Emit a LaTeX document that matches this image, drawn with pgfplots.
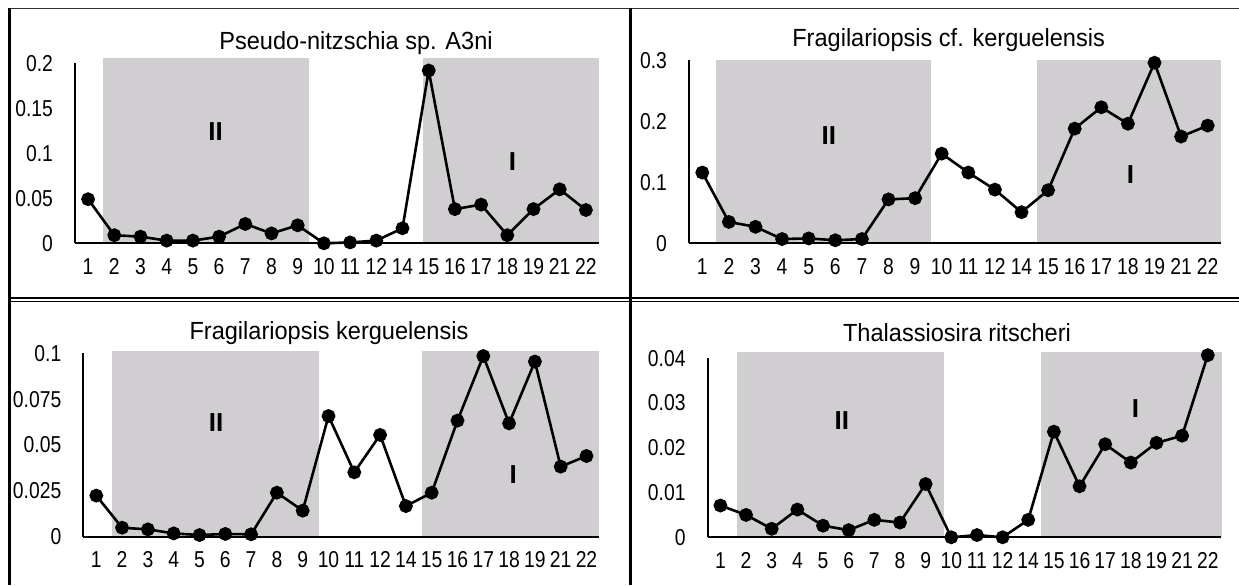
\documentclass[border=0pt]{standalone}
\usepackage{fontspec}
\setmainfont{Liberation Sans}
\newfontfamily\narrowfont[FakeStretch=0.84]{Liberation Sans}
\newfontfamily\titlefont[FakeStretch=0.95]{Liberation Sans}
\usepackage{pgfplots}
\pgfplotsset{compat=1.18}
\definecolor{shade}{RGB}{208,206,208}

\pgfplotsset{
  panel/.style={
    scale only axis, anchor=south west,
    xmin=-0.5, xmax=19.5, ymin=0,
    axis x line=bottom, axis y line=left,
    axis line style={-, line width=1pt, black},
    major tick length=0pt,
    xtick={0,...,19},
    xticklabels={1,2,3,4,5,6,7,8,9,10,11,12,14,15,16,17,18,19,21,22},
    ticklabel style={font=\narrowfont\fontsize{11.5}{13}\selectfont},
    /pgf/number format/assume math mode=true,
    /pgf/number format/fixed, /pgf/number format/precision=3,
    scaled y ticks=false,
    xticklabel style={yshift=-4pt},
    yticklabel style={xshift=-7.5pt},
    clip=false, axis on top,
  },
  series/.style={black, line width=1.3pt, mark=*, mark size=2.8pt, mark options={fill=black}},
  zone/.style={fill=shade, draw=none, forget plot},
}
\newcommand{\zonelabel}{\bfseries\fontsize{13}{15}\selectfont}
\newcommand{\titlesize}{\titlefont\fontsize{12.4}{14}\selectfont}

\begin{document}
\begin{tikzpicture}
\path[use as bounding box] (0,0) rectangle (619.5pt,-292.5pt);

% frames
\draw[gray!40!black, line width=0.7pt] (4pt,-4.15pt) -- (619.5pt,-4.15pt);
\draw[black, line width=1.5pt] (4.5pt,-4pt) -- (4.5pt,-292.5pt);
\draw[black, line width=1.5pt] (315pt,-4pt) -- (315pt,-292.5pt);
\draw[black, line width=0.65pt] (4.5pt,-149pt) -- (619.5pt,-149pt);
\draw[black, line width=0.65pt] (4.5pt,-150.75pt) -- (619.5pt,-150.75pt);

% top left
\begin{axis}[panel, at={(37.5pt,-121.65pt)}, width=262pt, height=90pt,
  ymax=0.2, ytick={0,0.05,0.1,0.15,0.2}]
\addplot[zone] coordinates {(0.57,0.206) (8.42,0.206)} \closedcycle;
\addplot[zone] coordinates {(12.79,0.206) (19.5,0.206)} \closedcycle;
\addplot[series] coordinates {
(0,0.049) (1,0.009) (2,0.0074) (3,0.003) (4,0.003) (5,0.0074) (6,0.0215)
(7,0.011) (8,0.020) (9,0.0) (10,0.001) (11,0.003) (12,0.0167) (13,0.192)
(14,0.038) (15,0.043) (16,0.009) (17,0.038) (18,0.060) (19,0.037)};
\node[font=\zonelabel] at (axis cs:4.87,0.124) {II};
\node[font=\zonelabel] at (axis cs:16.2,0.091) {I};
\end{axis}
\node[font=\titlesize] at (178pt,-21.5pt) {Pseudo-nitzschia sp. A3ni};

% top right
\begin{axis}[panel, at={(344.5pt,-121.65pt)}, width=266pt, height=91.5pt,
  ymax=0.3, ytick={0,0.1,0.2,0.3}]
\addplot[zone] coordinates {(0.53,0.301) (8.6,0.301)} \closedcycle;
\addplot[zone] coordinates {(12.6,0.301) (19.5,0.301)} \closedcycle;
\addplot[series] coordinates {
(0,0.116) (1,0.035) (2,0.027) (3,0.007) (4,0.008) (5,0.005) (6,0.007)
(7,0.072) (8,0.074) (9,0.147) (10,0.116) (11,0.088) (12,0.051) (13,0.087)
(14,0.188) (15,0.223) (16,0.196) (17,0.296) (18,0.175) (19,0.193)};
\node[font=\zonelabel] at (axis cs:4.76,0.177) {II};
\node[font=\zonelabel] at (axis cs:16.1,0.112) {I};
\end{axis}
\node[font=\titlesize] at (474.3pt,-20pt) {Fragilariopsis cf. kerguelensis};

% bottom left
\begin{axis}[panel, at={(41.7pt,-268.35pt)}, width=258pt, height=91.7pt,
  ymax=0.1, ytick={0,0.025,0.05,0.075,0.1}]
\addplot[zone] coordinates {(0.61,0.101) (8.65,0.101)} \closedcycle;
\addplot[zone] coordinates {(12.63,0.101) (19.5,0.101)} \closedcycle;
\addplot[series] coordinates {
(0,0.0224) (1,0.0049) (2,0.004) (3,0.0018) (4,0.0009) (5,0.0015) (6,0.0013)
(7,0.024) (8,0.0142) (9,0.0658) (10,0.0351) (11,0.0555) (12,0.0167) (13,0.024)
(14,0.0633) (15,0.0985) (16,0.0618) (17,0.0955) (18,0.0382) (19,0.044)};
\node[font=\zonelabel] at (axis cs:4.64,0.062) {II};
\node[font=\zonelabel] at (axis cs:16.16,0.034) {I};
\end{axis}
\node[font=\titlesize] at (164.5pt,-166.5pt) {Fragilariopsis kerguelensis};

% bottom right
\begin{axis}[panel, at={(353.8pt,-268.65pt)}, width=256.5pt, height=89.5pt,
  ymax=0.04, ytick={0,0.01,0.02,0.03,0.04}]
\addplot[zone] coordinates {(0.65,0.0413) (8.71,0.0413)} \closedcycle;
\addplot[zone] coordinates {(12.48,0.0413) (19.55,0.0413)} \closedcycle;
\addplot[series] coordinates {
(0,0.0071) (1,0.005) (2,0.0019) (3,0.0062) (4,0.0026) (5,0.0016) (6,0.0039)
(7,0.0033) (8,0.0119) (9,0.0) (10,0.0005) (11,0.0) (12,0.0039) (13,0.0236)
(14,0.0114) (15,0.0208) (16,0.0167) (17,0.0211) (18,0.0227) (19,0.0407)};
\node[font=\zonelabel] at (axis cs:4.73,0.0262) {II};
\node[font=\zonelabel] at (axis cs:16.18,0.0288) {I};
\end{axis}
\node[font=\titlesize] at (478.5pt,-166.5pt) {Thalassiosira ritscheri};
\end{tikzpicture}
\end{document}
